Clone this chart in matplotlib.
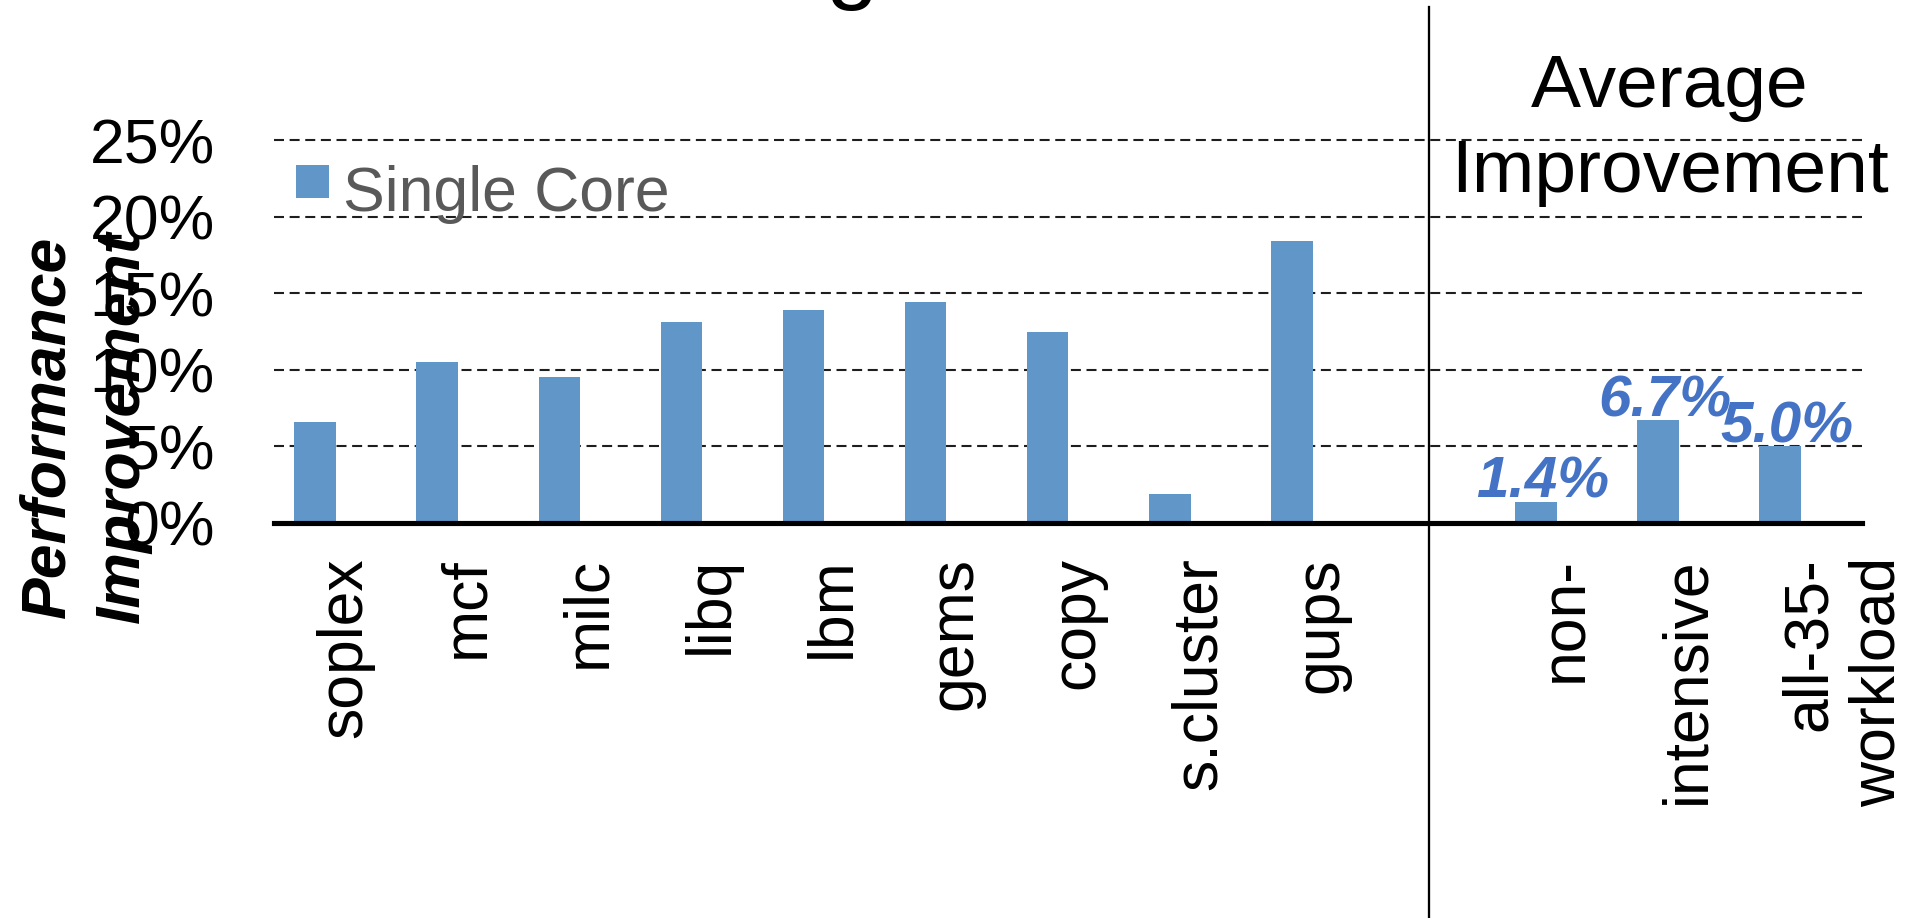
import matplotlib
matplotlib.use("Agg")
import matplotlib.pyplot as plt
from matplotlib.patches import Rectangle
from matplotlib.lines import Line2D

plt.rcParams['font.family'] = ['Liberation Sans', 'DejaVu Sans']

# ---- data -------------------------------------------------------------
benchmarks = ['soplex', 'mcf', 'milc', 'libq', 'lbm', 'gems', 'copy',
              's.cluster', 'gups']
single_core = [6.6, 10.5, 9.5, 13.1, 13.9, 14.4, 12.5, 1.9, 18.4]

avg_groups = ['non-', 'intensive', 'all-35-\nworkload']
avg_improvement = [1.4, 6.7, 5.0]
avg_labels = ['1.4%', '6.7%', '5.0%']

y_ticks = [0, 5, 10, 15, 20, 25]
series_name = 'Single Core'
avg_title = 'Average\nImprovement'
y_title = 'Performance\nImprovement'

# ---- styling ----------------------------------------------------------
BAR_BLUE = '#6096C8'
LABEL_BLUE = '#4472C4'
W, H, DPI = 1933, 918, 100
FS = 45


def rect_px(x0, y0, x1, y1):
    """Figure rectangle from pixel coordinates measured from the top-left."""
    return [x0 / W, 1 - y1 / H, (x1 - x0) / W, (y1 - y0) / H]


def fx(x):
    return x / W


def fy(y):
    return 1 - y / H


fig = plt.figure(figsize=(W / DPI, H / DPI), dpi=DPI)
fig.patch.set_facecolor('white')

ax = fig.add_axes(rect_px(274, 140, 1862, 523))
ax.set_facecolor('none')

bench_pos = list(range(len(benchmarks)))
avg_pos = [len(benchmarks) + 1 + i for i in range(len(avg_groups))]

ax.bar(bench_pos, single_core, width=0.34, color=BAR_BLUE, zorder=2)
ax.bar(avg_pos, avg_improvement, width=0.34, color=BAR_BLUE, zorder=2)

ax.set_xlim(-0.337, 12.67)
ax.set_ylim(0, 25)

# horizontal dashed gridlines
ax.set_yticks(y_ticks)
ax.set_yticklabels([f'{v}%' for v in y_ticks])
ax.yaxis.grid(True, linestyle=(0, (4.8, 2.7)), color='#1e1e1e', linewidth=1.5)
for gl in ax.get_ygridlines():
    gl.set_clip_on(False)
ax.set_axisbelow(True)
ax.tick_params(axis='y', length=0, pad=42.5, labelsize=FS, labelcolor='black')

# thick zero line
ax.axhline(0, color='black', linewidth=3.7, zorder=3, clip_on=False)

for s in ax.spines.values():
    s.set_visible(False)

# rotated category labels
ax.set_xticks(bench_pos + avg_pos)
ax.set_xticklabels(benchmarks + avg_groups)
ax.tick_params(axis='x', length=0, pad=24.5, labelsize=FS, labelcolor='black')
for lbl in ax.get_xticklabels():
    lbl.set_rotation(90)
    lbl.set_rotation_mode('anchor')
    lbl.set_horizontalalignment('right')
    lbl.set_verticalalignment('top')
    lbl.set_multialignment('right')

# value labels on the average bars
for p, v, t in zip(avg_pos, avg_improvement, avg_labels):
    ax.annotate(t, xy=(p, v), xytext=(7, 4), textcoords='offset pixels',
                ha='center', va='baseline', fontsize=42, fontweight='bold',
                fontstyle='italic', color=LABEL_BLUE, zorder=4)

# legend entry
fig.add_artist(Rectangle((fx(296), fy(198)), 33 / W, 33 / H,
                         transform=fig.transFigure, facecolor=BAR_BLUE,
                         edgecolor='none'))
fig.text(fx(343), fy(210.7), series_name, ha='left', va='baseline',
         fontsize=FS, color='#595959')

# y-axis title
fig.text(fx(18), fy(427), y_title, rotation=90, rotation_mode='anchor',
         ha='center', va='top', multialignment='center', fontsize=FS,
         fontweight='bold', fontstyle='italic', linespacing=1.34)

# section heading and divider
fig.text(fx(1670), fy(53), avg_title, ha='center', va='top',
         multialignment='center', fontsize=54, linespacing=1.30)
fig.add_artist(Line2D([fx(1429.3), fx(1429.3)], [0, fy(7)], color='black',
                      linewidth=1.65, transform=fig.transFigure))

# chart title (runs off the top edge)
fig.text(fx(826), fy(-9), 'g', ha='left', va='baseline', fontsize=68)

fig.savefig('out.png', dpi=DPI, facecolor='white')
